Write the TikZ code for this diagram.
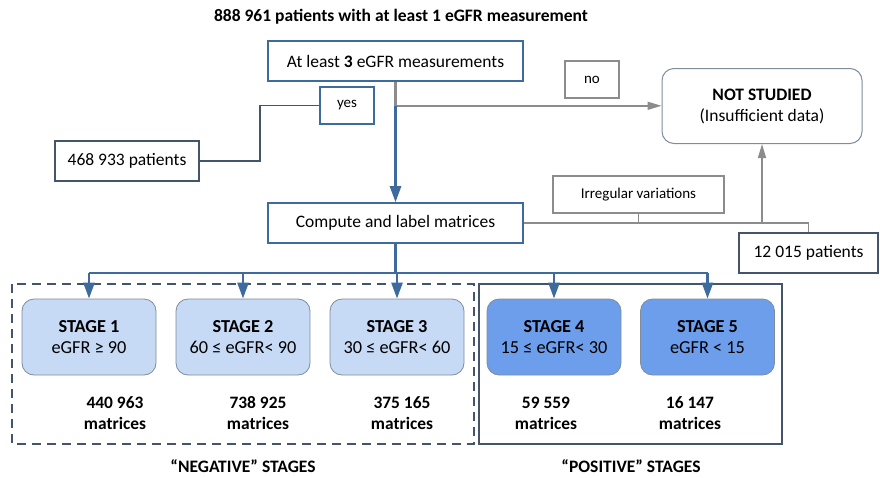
\documentclass[tikz,border=0pt]{standalone}
\usepackage{fontspec}
\setmainfont{Carlito}
\usetikzlibrary{arrows.meta, positioning, calc}
\definecolor{flowblue}{HTML}{3D6B9E}
\definecolor{flowgray}{HTML}{8C8C8C}
\definecolor{slate}{HTML}{44546A}
\definecolor{stagelight}{HTML}{C6D9F5}
\definecolor{stagedark}{HTML}{6D9EEB}
\definecolor{stageedge}{HTML}{7F8C9C}

\begin{document}
\begin{tikzpicture}[
    x = 1pt, y = -1pt, align = center,
    font = \fontsize{17.5}{21}\selectfont,
    step_box/.style = {
      rectangle, draw = flowblue, line width = 1.6pt,
      minimum width = 255pt, minimum height = 40pt
    },
    tag/.style = {
      rectangle, draw, line width = 1.3pt, inner sep = 0pt,
      font = \fontsize{15}{18}\selectfont
    },
    count_box/.style = {
      rectangle, draw = slate, line width = 1.3pt,
      minimum height = 40pt
    },
    stage/.style = {
      rectangle, rounded corners = 12pt, draw = stageedge, line width = 0.8pt,
      minimum width = 134pt, minimum height = 76pt,
      font = \fontsize{18.3}{21}\selectfont
    },
    matrices/.style = {
      font = \bfseries\fontsize{17.4}{21}\selectfont
    },
    blue_path/.style = {
      draw = flowblue, line width = 2.6pt
    },
    blue_arrow/.style = {
      blue_path, -{Triangle[width = 11pt, length = 16pt]}
    },
    gray_path/.style = {
      draw = flowgray, line width = 1.6pt
    },
    gray_arrow/.style = {
      gray_path, -{Triangle[width = 8pt, length = 14pt]}
    },
    ]
\useasboundingbox (0,0) rectangle (880,477);

% top of the flow
\node  (title)  at (401,17)  {\bfseries 888 961 patients with at least 1 eGFR measurement};
\node  [step_box]  (meas)  at (395.5,61)  {At least \textbf{3} eGFR measurements};
\node  [tag, draw = flowblue, minimum width = 54pt, minimum height = 37pt]  (yes)  at (347,105.5)  {yes};
\node  [count_box, minimum width = 144pt]  (pat_many)  at (127,161)  {468 933 patients};
\node  [tag, draw = flowgray, minimum width = 54pt, minimum height = 37pt]  (no)  at (592,79.5)  {no};
\node  [rectangle, rounded corners = 12pt, draw = stageedge, line width = 1pt,
        minimum width = 200pt, minimum height = 75pt]  (not_studied)  at (762,106)
        {\textbf{NOT STUDIED}\\(Insufficient data)};

% matrices
\node  [step_box]  (compute)  at (395.5,223)  {Compute and label matrices};
\node  [tag, draw = flowgray, minimum width = 171pt, minimum height = 37pt]  (irregular)  at (638.5,194.5)  {Irregular variations};
\node  [count_box, minimum width = 139pt]  (pat_few)  at (808.5,253)  {12 015 patients};

% stages
\node  [stage, fill = stagelight]  (stage_1)  at (89,337)  {\textbf{STAGE 1}\\eGFR ≥ 90};
\node  [stage, fill = stagelight]  (stage_2)  at (243,337)  {\textbf{STAGE 2}\\60 ≤ eGFR< 90};
\node  [stage, fill = stagelight]  (stage_3)  at (397,337)  {\textbf{STAGE 3}\\30 ≤ eGFR< 60};
\node  [stage, fill = stagedark]  (stage_4)  at (554,337)  {\textbf{STAGE 4}\\15 ≤ eGFR< 30};
\node  [stage, fill = stagedark]  (stage_5)  at (707.5,337)  {\textbf{STAGE 5}\\eGFR < 15};

\node  [matrices]  (count_1)  at (115,413)  {440 963\\matrices};
\node  [matrices]  (count_2)  at (258,413)  {738 925\\matrices};
\node  [matrices]  (count_3)  at (402,413)  {375 165\\matrices};
\node  [matrices]  (count_4)  at (546,413)  {59 559\\matrices};
\node  [matrices]  (count_5)  at (690,413)  {16 147\\matrices};

\draw  [slate, line width = 2.2pt, dash pattern = on 9pt off 6pt]  (12,284) rectangle (474,444);
\draw  [slate, line width = 2.4pt]  (479,284) rectangle (782,444);
\node  [font = \bfseries\fontsize{17.5}{21}\selectfont]  (neg_label)  at (243,466)  {“NEGATIVE” STAGES};
\node  [font = \bfseries\fontsize{17.5}{21}\selectfont]  (pos_label)  at (631,466)  {“POSITIVE” STAGES};

% connectors
\coordinate  (split)  at ($(meas.south)+(0,24)$);
\coordinate  (yes_turn)  at (260,0);
\coordinate  (bus)  at ($(compute.south)+(0,29)$);
\coordinate  (back_up)  at (not_studied.south |- compute.east);

\draw  [gray_path, line width = 2.6pt]  (meas.south)  --  (split);
\draw  [gray_arrow]  (split)  --  (split -| not_studied.west);
\draw  [blue_arrow]  (split)  --  (compute.north);
\draw  [slate, line width = 1.6pt]  (yes.west)  --  (yes.west -| yes_turn)  |-  (pat_many.east);

\draw  [gray_path]  (compute.east)  -|  (pat_few.north);
\draw  [gray_path]  (irregular.south)  --  (irregular.south |- compute.east);
\draw  [gray_arrow]  (back_up)  --  (not_studied.south);

\draw  [blue_path]  (compute.south)  --  (bus);
\draw  [blue_path]  (bus -| stage_1.north)  --  (bus -| stage_5.north);
\foreach \s in {1,...,5}
  \draw  [blue_arrow]  (bus -| stage_\s.north)  --  (stage_\s.north);

\end{tikzpicture}
\end{document}
